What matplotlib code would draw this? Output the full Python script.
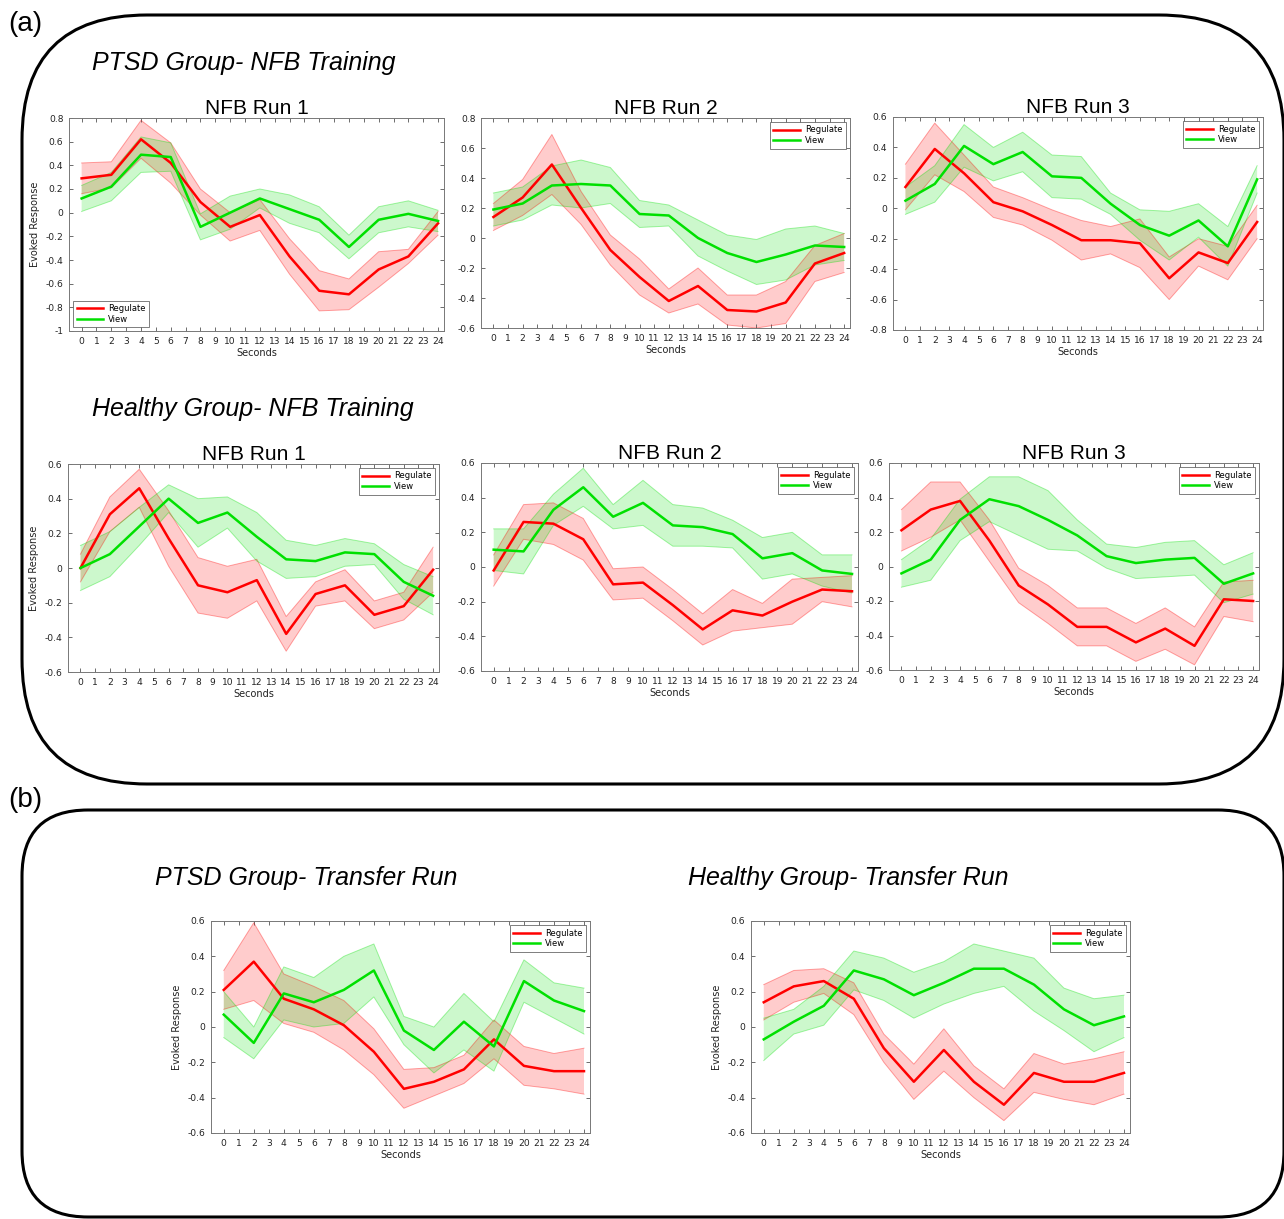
import matplotlib
matplotlib.use("Agg")
import matplotlib.pyplot as plt
from matplotlib.patches import FancyBboxPatch
from matplotlib.ticker import MultipleLocator, FuncFormatter

plt.rcParams['axes.unicode_minus'] = False
plt.rcParams['font.family'] = ['DejaVu Sans']

# time points (seconds)
seconds = [0, 2, 4, 6, 8, 10, 12, 14, 16, 18, 20, 22, 24]

# PTSD group - NFB training runs (mean, half-width of shaded band)
ptsd_r1_reg = [0.29, 0.32, 0.62, 0.42, 0.09, -0.12, -0.02, -0.37, -0.66, -0.69, -0.48, -0.37, -0.09]
ptsd_r1_reg_err = [0.13, 0.11, 0.16, 0.17, 0.11, 0.12, 0.13, 0.15, 0.17, 0.13, 0.15, 0.06, 0.10]
ptsd_r1_view = [0.12, 0.22, 0.49, 0.47, -0.12, 0.0, 0.12, 0.03, -0.06, -0.29, -0.06, -0.01, -0.07]
ptsd_r1_view_err = [0.11, 0.12, 0.15, 0.12, 0.11, 0.14, 0.08, 0.12, 0.11, 0.10, 0.11, 0.11, 0.09]

ptsd_r2_reg = [0.14, 0.27, 0.49, 0.20, -0.08, -0.26, -0.42, -0.32, -0.48, -0.49, -0.43, -0.17, -0.10]
ptsd_r2_reg_err = [0.09, 0.12, 0.20, 0.11, 0.10, 0.12, 0.08, 0.12, 0.10, 0.11, 0.14, 0.12, 0.13]
ptsd_r2_view = [0.19, 0.23, 0.35, 0.36, 0.35, 0.16, 0.15, 0.0, -0.10, -0.16, -0.11, -0.05, -0.06]
ptsd_r2_view_err = [0.11, 0.11, 0.13, 0.16, 0.12, 0.09, 0.07, 0.12, 0.12, 0.15, 0.17, 0.13, 0.09]

ptsd_r3_reg = [0.14, 0.39, 0.23, 0.04, -0.02, -0.11, -0.21, -0.21, -0.23, -0.46, -0.29, -0.36, -0.09]
ptsd_r3_reg_err = [0.15, 0.17, 0.12, 0.10, 0.09, 0.10, 0.13, 0.09, 0.16, 0.14, 0.09, 0.11, 0.11]
ptsd_r3_view = [0.05, 0.16, 0.41, 0.29, 0.37, 0.21, 0.20, 0.03, -0.11, -0.18, -0.08, -0.25, 0.19]
ptsd_r3_view_err = [0.09, 0.12, 0.14, 0.11, 0.13, 0.14, 0.14, 0.07, 0.10, 0.16, 0.11, 0.13, 0.09]

# Healthy group - NFB training runs
hc_r1_reg = [0.0, 0.31, 0.46, 0.17, -0.10, -0.14, -0.07, -0.38, -0.15, -0.10, -0.27, -0.22, -0.01]
hc_r1_reg_err = [0.08, 0.10, 0.11, 0.16, 0.16, 0.15, 0.12, 0.10, 0.07, 0.09, 0.08, 0.08, 0.13]
hc_r1_view = [0.0, 0.08, 0.24, 0.40, 0.26, 0.32, 0.18, 0.05, 0.04, 0.09, 0.08, -0.08, -0.16]
hc_r1_view_err = [0.13, 0.13, 0.11, 0.08, 0.14, 0.09, 0.14, 0.11, 0.09, 0.08, 0.06, 0.10, 0.11]

hc_r2_reg = [-0.02, 0.26, 0.25, 0.16, -0.10, -0.09, -0.22, -0.36, -0.25, -0.28, -0.20, -0.13, -0.14]
hc_r2_reg_err = [0.09, 0.10, 0.12, 0.12, 0.09, 0.09, 0.09, 0.09, 0.12, 0.07, 0.13, 0.07, 0.09]
hc_r2_view = [0.10, 0.09, 0.33, 0.46, 0.29, 0.37, 0.24, 0.23, 0.19, 0.05, 0.08, -0.02, -0.04]
hc_r2_view_err = [0.12, 0.13, 0.09, 0.11, 0.07, 0.13, 0.12, 0.11, 0.08, 0.12, 0.12, 0.09, 0.11]

hc_r3_reg = [0.21, 0.33, 0.38, 0.15, -0.11, -0.22, -0.35, -0.35, -0.44, -0.36, -0.46, -0.19, -0.20]
hc_r3_reg_err = [0.12, 0.16, 0.11, 0.12, 0.10, 0.11, 0.11, 0.11, 0.11, 0.12, 0.11, 0.10, 0.12]
hc_r3_view = [-0.04, 0.04, 0.27, 0.39, 0.35, 0.27, 0.18, 0.06, 0.02, 0.04, 0.05, -0.10, -0.04]
hc_r3_view_err = [0.08, 0.12, 0.12, 0.13, 0.17, 0.17, 0.09, 0.07, 0.09, 0.10, 0.10, 0.11, 0.12]

# Transfer runs
ptsd_tr_reg = [0.21, 0.37, 0.16, 0.10, 0.01, -0.14, -0.35, -0.31, -0.24, -0.07, -0.22, -0.25, -0.25]
ptsd_tr_reg_err = [0.11, 0.22, 0.14, 0.13, 0.14, 0.13, 0.11, 0.08, 0.08, 0.11, 0.11, 0.10, 0.13]
ptsd_tr_view = [0.07, -0.09, 0.19, 0.14, 0.21, 0.32, -0.02, -0.13, 0.03, -0.11, 0.26, 0.15, 0.09]
ptsd_tr_view_err = [0.13, 0.09, 0.15, 0.14, 0.19, 0.15, 0.08, 0.13, 0.16, 0.14, 0.12, 0.10, 0.13]

hc_tr_reg = [0.14, 0.23, 0.26, 0.16, -0.12, -0.31, -0.13, -0.31, -0.44, -0.26, -0.31, -0.31, -0.26]
hc_tr_reg_err = [0.10, 0.09, 0.07, 0.09, 0.08, 0.10, 0.12, 0.09, 0.09, 0.11, 0.10, 0.13, 0.12]
hc_tr_view = [-0.07, 0.03, 0.12, 0.32, 0.27, 0.18, 0.25, 0.33, 0.33, 0.24, 0.10, 0.01, 0.06]
hc_tr_view_err = [0.12, 0.07, 0.11, 0.11, 0.12, 0.13, 0.12, 0.14, 0.10, 0.15, 0.12, 0.15, 0.12]

W, H = 1284, 1219
fig = plt.figure(figsize=(W / 100, H / 100), dpi=100)

red = '#ff0000'
green = '#00e000'


def panel(box, reg, reg_err, view, view_err, ylim, title=None, ylabel=False, legend_loc='upper right'):
    l, t, r, b = box
    ax = fig.add_axes([l / W, 1 - b / H, (r - l) / W, (b - t) / H])
    for m, e, c in [(reg, reg_err, red), (view, view_err, green)]:
        lo = [a - d for a, d in zip(m, e)]
        hi = [a + d for a, d in zip(m, e)]
        ax.fill_between(seconds, lo, hi, facecolor=c, alpha=0.2, linewidth=0)
        ax.plot(seconds, lo, color=c, alpha=0.35, lw=0.7)
        ax.plot(seconds, hi, color=c, alpha=0.35, lw=0.7)
    ax.plot(seconds, reg, color=red, lw=1.8, label='Regulate')
    ax.plot(seconds, view, color=green, lw=1.8, label='View')
    ax.set_xlim(-0.85, 24.4)
    ax.set_ylim(*ylim)
    ax.xaxis.set_major_locator(MultipleLocator(1))
    ax.yaxis.set_major_locator(MultipleLocator(0.2))
    ax.yaxis.set_major_formatter(FuncFormatter(lambda v, p: f"{round(v, 2) + 0:g}"))
    ax.tick_params(direction='in', length=3, width=0.6, top=True, right=True,
                   labelsize=6.6, pad=4, color='#555555', labelcolor='#222222')
    for s in ax.spines.values():
        s.set_color('#777777')
        s.set_linewidth(0.7)
    ax.set_xlabel('Seconds', fontsize=7, labelpad=2, color='#222222')
    if ylabel:
        ax.set_ylabel('Evoked Response', fontsize=7, labelpad=4, color='#222222')
    if title:
        ax.set_title(title, fontsize=15, family='Liberation Sans', pad=3)
    leg = ax.legend(loc=legend_loc, fontsize=6, handlelength=3.2, fancybox=False,
                    edgecolor='#444444', borderpad=0.4, labelspacing=0.2, handletextpad=0.6)
    leg.get_frame().set_linewidth(0.6)
    return ax


panel((69, 118, 444, 331), ptsd_r1_reg, ptsd_r1_reg_err, ptsd_r1_view, ptsd_r1_view_err,
      (-1, 0.8), 'NFB Run 1', ylabel=True, legend_loc='lower left')
panel((481, 118, 850, 328), ptsd_r2_reg, ptsd_r2_reg_err, ptsd_r2_view, ptsd_r2_view_err,
      (-0.6, 0.8), 'NFB Run 2')
panel((893, 117, 1263, 330), ptsd_r3_reg, ptsd_r3_reg_err, ptsd_r3_view, ptsd_r3_view_err,
      (-0.8, 0.6), 'NFB Run 3')

panel((68, 464, 439, 672), hc_r1_reg, hc_r1_reg_err, hc_r1_view, hc_r1_view_err,
      (-0.6, 0.6), 'NFB Run 1', ylabel=True)
panel((481, 463, 858, 671), hc_r2_reg, hc_r2_reg_err, hc_r2_view, hc_r2_view_err,
      (-0.6, 0.6), 'NFB Run 2')
panel((889, 463, 1259, 670), hc_r3_reg, hc_r3_reg_err, hc_r3_view, hc_r3_view_err,
      (-0.6, 0.6), 'NFB Run 3')

panel((211, 921, 590, 1133), ptsd_tr_reg, ptsd_tr_reg_err, ptsd_tr_view, ptsd_tr_view_err,
      (-0.6, 0.6), ylabel=True)
panel((751, 921, 1130, 1133), hc_tr_reg, hc_tr_reg_err, hc_tr_view, hc_tr_view_err,
      (-0.6, 0.6), ylabel=True)

# rounded frames around (a) and (b), in inches
box_a = FancyBboxPatch((0.22, (H - 784) / 100), 12.62, (784 - 15) / 100,
                       boxstyle="round,pad=0,rounding_size=1.25",
                       transform=fig.dpi_scale_trans, facecolor='none',
                       edgecolor='black', lw=2.2, clip_on=False)
box_b = FancyBboxPatch((0.22, (H - 1217) / 100), 12.62, (1217 - 810) / 100,
                       boxstyle="round,pad=0,rounding_size=0.66",
                       transform=fig.dpi_scale_trans, facecolor='none',
                       edgecolor='black', lw=2.2, clip_on=False)
fig.add_artist(box_a)
fig.add_artist(box_b)

# panel letters and group headings
fig.text(8 / W, 1 - 24 / H, '(a)', fontsize=20, family='Liberation Sans', va='center')
fig.text(8 / W, 1 - 800 / H, '(b)', fontsize=20, family='Liberation Sans', va='center')
fig.text(92 / W, 1 - 63 / H, 'PTSD Group- NFB Training', fontsize=18, style='italic',
         family='Liberation Sans', va='center')
fig.text(92 / W, 1 - 409 / H, 'Healthy Group- NFB Training', fontsize=18, style='italic',
         family='Liberation Sans', va='center')
fig.text(155 / W, 1 - 878 / H, 'PTSD Group- Transfer Run', fontsize=18, style='italic',
         family='Liberation Sans', va='center')
fig.text(688 / W, 1 - 878 / H, 'Healthy Group- Transfer Run', fontsize=18, style='italic',
         family='Liberation Sans', va='center')

fig.savefig('out.png', dpi=100)
